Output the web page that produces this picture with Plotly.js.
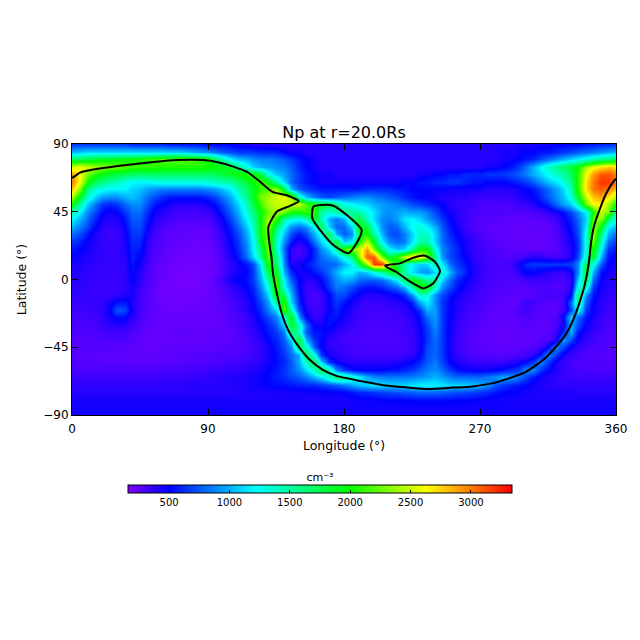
<!DOCTYPE html>
<html>
<head>
<meta charset="utf-8">
<script src="https://cdn.plot.ly/plotly-3.0.1.min.js"></script>
<style>html,body{margin:0;padding:0;background:#fff}#chart{width:640px;height:640px}</style>
</head>
<body>
<div id="chart"></div>
<script>
// Density in units of 100 cm^-3. Columns: longitude 0,5,...,360.
const longitudes = [0,5,10,15,20,25,30,35,40,45,50,55,60,65,70,75,80,85,90,95,100,105,110,115,120,125,130,135,140,145,150,155,160,165,170,175,180,185,190,195,200,205,210,215,220,225,230,235,240,245,250,255,260,265,270,275,280,285,290,295,300,305,310,315,320,325,330,335,340,345,350,355,360];
const latitudes = [90,85,80,75,70,65,60,55,50,45,40,35,30,25,20,15,10,5,0,-5,-10,-15,-20,-25,-30,-35,-40,-45,-50,-55,-60,-65,-70,-75,-80,-85,-90];

const lat90 = [6.5,6.5,6.5,6.5,6.5,6.5,6.5,6.5,6,6,6,6, 6,5.5,5.5,5.5,5.5,5.5,5,5,5,5,4.5,4.5, 4,4,4,4,4,4,4,4,4,4,4,4, 4,4,4,4,4,4,4,4,4,4,4,4, 4,4,4,4,4,4,4,4,4,4,4,4.5, 4.5,4.5,4.5,4.5,5,5,5,5,5.5,5.5,6,6,6.5];
const lat85 = [10,10.5,11,11,11,11,11,11,11,11,11,11, 11,11,11,10.5,10,9.5,9,8,7.5,7,6.5,6.5, 6.5,6,6,6,5,4.5,4.5,4,4,4,4,4, 4,4,4,4,4,4,4,4,4,4,4,4, 4,4,4,4,4,4,4,4,4,4.5,4.5,4.5, 5,5,5.5,5.5,6,6.5,7,7.5,8,8.5,9,9.5,10];
const lat80 = [17,17.5,18,18.5,19,19,19.5,20,20,20.5,21,21.5, 22,22,22,22,22,21.5,20,17,14.5,12,10.5,10, 9,8.5,8.5,8,7.5,6.5,5.5,5,4.5,4,4,4, 4,4,4,4,4,4,4,4,4,4,4,4, 4,4,4,4,4,4,4,4,4,4.5,4.5,5, 5.5,6,7,8,9,10,11,12,13,14.5,15.5,16.5,17];
const lat75 = [25,26,25,24,23.5,23,22.5,22,21.5,21,21,21, 20.5,20.5,20.5,20.5,20.5,20.5,20,20,19.5,18.5,16,13, 11,10,9.5,9,8.5,7.5,6,5,4.5,4,4,4, 4,4,4,4,4,4,4,4,4,4,4,4, 4,4,4,4,4,4,4,4.5,4.5,5,5.5,6.5, 8,10,12,14,15.5,17,18.5,20,24,26,27,28,27];
const lat70 = [29,26,23,21,19.5,18.5,18,17.5,17,17,17,17, 17,17,17,17,17,17,17,17.5,18,19,20,21, 20.5,18,13,10.5,9.5,8,6.5,5.5,5,4.5,4.5,4, 4,4,4,4,4,4,4,4,4,4,4.5,4.5, 5,5,5.5,5.5,6,6,6,6.5,6.5,6.5,7,7.5, 8.5,10,11,12.5,14,15,17,21,26,29,31,31,30];
const lat65 = [30,26,20.5,17.5,16,15,14,13,12,12,12,12.5, 13,13,13,13,13,13,13.5,14,14.5,15,16.5,18, 20,21.5,20,15,11,8,6.5,5.5,5,4.5,4.5,4.5, 4.5,4.5,4.5,4.5,4.5,4.5,4.5,4.5,5,5,5.5,5.5, 6,6,6.5,6.5,6,5.5,5.5,5,5,5,5.5,6, 6.5,7.5,9,10.5,11.5,13,16,21,27,30,32,32,30];
const lat60 = [28,23,16.5,13.5,12.5,12,12,12,11,10.5,9.5,9, 8.5,8.5,8.5,8.5,8.5,8.5,9,9.5,10.5,12,14.5,16.5, 19,21,22,24,18,10,7.5,6.5,6,5.5,5.5,5.5, 5.5,5.5,5.5,6,6,6,6,5.5,5.5,5,5,5, 5,5,4.5,4.5,4.5,4.5,4.5,4,4,4,4,4.5, 5,5.5,6.5,8,9.5,11,15,21,27,30,31,30,28];
const lat55 = [24,19,14,11,9.5,9,9,10,10.5,9.5,8,7, 6,5.5,5.5,5.5,5.5,5.5,6,7,8.5,10,12.5,15.5, 19,23,24,25,26,24,14,10.5,8.5,7.5,7,7.5, 8,8.5,9,9,8.5,8,7.5,7,6,5.5,5,5, 4.5,4,4,4,4,3.5,3.5,3.5,3.5,3.5,3.5,4, 4.5,5,6,7.5,9,10.5,13,19,25,28,29,27,24];
const lat50 = [20,15,11,8.5,6.5,6,6.5,8,9,9,7,5.5, 5,4.5,4,4,4,4,4.5,5.5,7,9,11,14, 18,21.5,24,25,25,25,25,22,20,19,18,16, 13,12,11.5,11,10,9.5,9,8.5,8,7,6.5,6, 5.5,5,4,3.5,3.5,3.5,3,3,3,3,3,3.5, 3.5,4,5,6,8,9.5,11,15,23,26,27,24,20];
const lat45 = [14.5,12,9,7,5.2,4.5,5,6.5,8,8,6,4.5, 4,3.5,3.3,3.2,3.2,3.3,3.5,4.5,6,8,10,13, 16,20,22.5,24,23,20.5,20,21,21,15,13.5,15, 16,15.5,14.5,13,11.5,9.5,9,9.5,10,9.5,9.5,8.5, 7,5.5,4.5,4,3.5,3.2,3,3,3,2.8,2.8,2.8, 2.8,3,3.2,3.8,4.5,5.5,7,9,12,20,25,23,15];
const lat40 = [12,10,8,6,4.5,4,4.3,5.5,7.5,7.5,5.5,4, 3.5,3.2,3,2.9,2.8,2.9,3,3.8,5,7,9,12, 15,20,24,21,15,13,12.5,14,20,14,10,8.5, 10,16,18,14,11,9,8.5,9.5,11.5,12,11,9.5, 8,6.5,5,4,3.5,3.1,2.8,2.7,2.6,2.6,2.5,2.5, 2.5,2.6,2.7,2.8,3.3,4.5,6,8,11,22,24,17,12];
const lat35 = [10,8.5,7,5,4,3.6,3.8,5,7,7,4.8,3.5, 3,2.8,2.6,2.5,2.5,2.5,2.6,3.3,4.5,6,8,10.5, 14,20,24,17,12,9,8,9,12,18,11,8, 8,11,20,18,13,9,7.5,8,10,12.5,13.5,12, 10,7.5,5.5,4.5,3.5,3.1,2.8,2.6,2.5,2.5,2.4,2.4, 2.4,2.4,2.4,2.5,3,4,5.5,7.5,12,24,19,12,10];
const lat30 = [8,7,5.5,4.2,3.7,3.4,3.5,4.5,6.5,6.5,4.2,3.2, 2.8,2.6,2.5,2.4,2.3,2.3,2.4,3,4,5.5,7,9.5, 13,20,23,15,10.5,7,5.5,7,10,13,18,10, 7.5,9,19,20,15,10,7.5,7,8.5,11,14,14, 11,8,6,5,4,3.4,3,2.7,2.5,2.5,2.4,2.4, 2.4,2.4,2.4,2.5,2.8,3.7,5,7,13,24,16,10,8];
const lat25 = [6.5,5.8,4.8,4,3.7,3.4,3.5,4.3,6.2,6,3.8,3, 2.7,2.5,2.4,2.3,2.2,2.2,2.3,2.8,3.7,5,6.5,9, 12,19,23,14,9,5.5,4,5,8,11,14,19, 11,12,20,25,19,12,9,8,8.5,11.5,15,15, 11,8,6.5,5.5,4.5,3.7,3.2,2.9,2.7,2.6,2.5,2.4, 2.4,2.4,2.4,2.5,2.7,3.5,4.5,6.5,13,23,14,8,6.5];
const lat20 = [5.5,5,4.5,4,3.8,3.6,3.6,4.2,6,5.5,3.6,2.9, 2.6,2.4,2.3,2.2,2.1,2.1,2.2,2.6,3.4,4.8,6,8.5, 12,17,23,14,8,3.8,3,3.8,6,9,11,15, 22,23,25,29,23,16,12,10.5,11,15,20,20, 13,9,7,6,4.5,3.8,3.4,3.1,2.9,2.7,2.6,2.5, 2.5,2.4,2.4,2.5,2.6,3.3,4.2,6.5,13,21,12,6.5,5.5];
const lat15 = [4.8,4.5,4.2,3.9,3.7,3.6,3.6,4,5.8,5,3.4,2.8, 2.5,2.3,2.2,2.1,2.1,2.1,2.2,2.5,3.2,4.5,5.5,8, 11,16,22,16,8.5,3.5,3.5,4.2,6,8,9,10, 13,16,24,31,31,23,18,21,25,28,27,23, 16,9,7,6,5,4,3.5,3.2,3,2.9,2.8,3, 3.5,4,3.8,3.4,3.2,3.3,4.2,7,14,19,10,5.5,4.8];
const lat10 = [4.5,4.3,4,3.8,3.6,3.6,3.6,3.9,5.5,4.5,3.2,2.6, 2.4,2.2,2.1,2,2,2,2.1,2.4,3,3.8,4.5,5.5, 7,12,21,17,9,4,4.5,5.5,6.5,7.5,7.8,8, 10,12,18,24,32,32,25,18,15,12,11,11, 15,12,8,6.5,5.5,4.3,3.7,3.3,3.1,3.1,3.3,4.5, 6,6.5,6.5,6.5,6.5,6.5,6.8,9,18,13,7.5,5,4.5];
const lat05 = [4.2,4,3.8,3.7,3.5,3.5,3.5,3.8,5.2,4,3,2.5, 2.3,2.1,2,2,2,2,2.1,2.3,3,4,4.6,5, 6.5,11,18,19,10,6,4.5,4.6,5.5,6.5,8,10, 12,12,10,11,13,15,18,20,15,11.5,9.5,9, 11,14,10,7.5,6,4.5,3.7,3.3,3.1,3,3.1,3.6, 5,5,4.5,4,3.7,3.5,4.5,9,19,10,5.5,4.5,4.2];
const lat00 = [4,3.9,3.7,3.6,3.5,3.5,3.5,3.7,5,3.7,2.9,2.4, 2.2,2.1,2,1.9,1.9,2,2.2,2.7,3.5,4.5,5,5.3, 6.5,10,15,21,12,7.5,5,4,4,5,7,9, 10,9.5,8,7.5,7.5,8,9.5,12,17,20,18,15, 16,11,8,6,5,4.2,3.5,3.2,3,2.9,2.8,2.9, 3.2,3.4,3.4,3.3,3.1,3,3.8,11,18,8,4.8,4.2,4];
const latS05 = [3.9,3.8,3.6,3.5,3.5,3.5,3.5,3.7,4.5,3.5,2.8,2.4, 2.1,2,2,2,2,2,2.2,2.5,3,3.6,4.3,5, 6,9,13,22,12.5,9,5,3.5,3.5,4.5,6.5,8.5, 8,7,6,5.5,5.5,6,7,8,10,15,20,20, 14,9,7,5.5,4.5,3.8,3.4,3.1,2.9,2.8,2.7,2.7, 2.7,2.9,3,3,2.8,2.8,4,13,14,6.5,4.5,4,3.9];
const latS10 = [3.8,3.7,3.6,3.5,3.5,3.6,3.8,4.2,4.5,3.2,2.7,2.4, 2.1,2.1,2.1,2.1,2.1,2.1,2.2,2.4,2.8,3.3,3.8,4.4, 5.5,8,11,20,17,10,5.5,3.5,3,3.5,5,7, 7,5.5,4.5,4,4,4.2,4.5,5,6,9,14,13, 9,7,5.5,4.5,4,3.6,3.2,3,2.8,2.7,2.6,2.6, 2.6,2.7,3,3.2,3,3.2,5,17,9,5.5,4.2,3.8,3.8];
const latS15 = [3.6,3.6,3.6,3.6,3.7,4.5,5.5,5.5,4.2,3.2,2.7,2.4, 2.2,2.1,2.1,2.1,2.2,2.2,2.3,2.5,2.7,3,3.5,4, 5,7,9.5,15,21,11,6,3.8,3,3.4,5,6.5, 5.5,4.5,3.8,3.5,3.5,3.6,3.8,4,4.5,6,10,12, 9,6.5,5,4.2,3.7,3.4,3.1,2.9,2.7,2.6,2.5,2.5, 3.5,3.2,2.9,2.7,2.7,3.2,8,16,7.5,5,4,3.6,3.6];
const latS20 = [3.4,3.4,3.4,3.5,3.8,5,7.5,7,4.5,3.2,2.7,2.4, 2.3,2.2,2.2,2.2,2.3,2.3,2.3,2.4,2.6,2.9,3.3,3.8, 4.7,6.3,8.5,11,22,14,7,4.2,3.2,3.5,4.8,6, 4.8,4,3.5,3.3,3.3,3.3,3.4,3.5,3.8,4.5,6.5,10, 9.5,6.5,5,4,3.5,3.2,3,2.7,2.5,2.5,2.6,3, 3.3,2.9,2.7,2.6,2.7,3.2,7,13,6.5,4.7,3.8,3.4,3.4];
const latS25 = [3.2,3.2,3.2,3.3,3.7,4.5,5.5,5.2,4,3,2.6,2.4, 2.3,2.3,2.3,2.3,2.3,2.3,2.3,2.4,2.5,2.8,3.1,3.5, 4.3,5.5,7,8.5,13,20,9,5,3.5,3.8,5.5,5.5, 4.5,3.8,3.4,3.2,3.2,3.2,3.2,3.3,3.5,4,5.5,8, 9.5,6.5,4.8,3.9,3.3,3,2.8,2.6,2.5,2.5,2.5,2.7, 3,2.8,2.6,2.6,2.9,5,11,8,5.5,4.3,3.6,3.3,3.2];
const latS30 = [3,3,3,3.3,3.6,3.9,4.1,3.9,3.3,2.8,2.5,2.4, 2.4,2.4,2.4,2.4,2.4,2.4,2.4,2.4,2.5,2.7,3,3.4, 4,5,6,7.5,11,19,14,8,4.8,4.5,5.5,4.5, 4,3.5,3.3,3.1,3,3,3.1,3.2,3.3,3.7,5,7, 9,6.5,4.6,3.7,3.2,2.9,2.7,2.6,2.5,2.4,2.4,2.5, 2.7,2.6,2.5,2.6,3,4.5,10,7,4.8,4,3.5,3.1,3];
const latS35 = [2.9,2.9,2.9,3,3.2,3.3,3.4,3.2,2.9,2.6,2.4,2.3, 2.4,2.4,2.4,2.5,2.4,2.4,2.4,2.4,2.5,2.6,2.9,3.2, 3.7,4.5,5.5,6.5,8.5,17,14,7.5,5.5,5.5,4.5,4, 3.5,3.3,3.1,3,3,3,3,3.1,3.3,3.5,4.8,6.5, 8.5,6.5,4.5,3.6,3.1,2.8,2.6,2.5,2.4,2.4,2.4,2.4, 2.5,2.5,2.6,2.7,3.2,6,10,5.5,4.2,3.6,3.2,3,2.9];
const latS40 = [2.8,2.8,2.8,2.8,2.9,3,3,2.9,2.7,2.5,2.4,2.3, 2.3,2.3,2.4,2.4,2.4,2.4,2.4,2.5,2.5,2.6,2.8,3, 3.5,4,5,6,7.5,11,19,10,6.5,5,3.7,3.4, 3.2,3.1,3,3,3,3,3,3,3.1,3.4,4.6,6.5, 8,6.5,4.4,3.5,3,2.7,2.6,2.5,2.4,2.4,2.4,2.4, 2.5,2.6,2.7,3,4.2,9.5,7,4.5,3.7,3.3,3,2.9,2.8];
const latS45 = [2.7,2.7,2.7,2.7,2.7,2.7,2.7,2.6,2.5,2.4,2.3,2.3, 2.4,2.5,2.5,2.5,2.5,2.6,2.6,2.6,2.7,2.7,2.8,3, 3.3,3.8,4.5,5.5,7,9,17,14,7.5,5,3.8,3.6, 3.4,3.2,3.1,3,3,3,3,3,3.1,3.4,4.6,7, 8,6.5,4.4,3.5,3,2.8,2.7,2.6,2.5,2.5,2.5,2.5, 2.6,2.8,3.2,5,9,7,4.5,3.6,3.2,3,2.9,2.8,2.7];
const latS50 = [2.7,2.7,2.6,2.6,2.6,2.6,2.6,2.5,2.4,2.4,2.4,2.4, 2.4,2.5,2.6,2.6,2.7,2.7,2.8,2.8,2.9,2.9,3,3.2, 3.4,3.8,4.5,5.3,6.5,8,10,18,13,6.5,4.5,4, 3.6,3.4,3.3,3.2,3.2,3.2,3.2,3.3,3.5,3.8,5,7.2, 8,6.5,4.5,3.7,3.3,3,2.9,2.8,2.7,2.7,2.8,3, 3.2,3.6,5.5,9,6.5,4.3,3.6,3.2,3,2.9,2.8,2.7,2.7];
const latS55 = [2.8,2.8,2.7,2.7,2.6,2.6,2.6,2.6,2.6,2.6,2.6,2.6, 2.7,2.7,2.7,2.8,2.8,2.9,3,3,3.1,3.2,3.3,3.5, 3.7,4,4.5,5.2,6,7.5,10,14,18,11,6.5,4.8, 4.2,4,3.9,3.9,3.9,4,4,4.2,4.5,5,6,7.5, 8.5,6.8,5,4.2,3.7,3.5,3.4,3.4,3.4,3.5,3.8,4.4, 5,6.5,9,6.5,4.5,3.6,3.2,3,2.9,2.8,2.8,2.8,2.8];
const latS60 = [3,3,3,3,3,3,3,3,3,3,3,3, 3,3.1,3.1,3.2,3.2,3.3,3.4,3.5,3.6,3.7,3.8,4, 4.2,4.5,5,5.5,6.5,7.5,9,11,14,18,15,9, 6.5,5.5,5,5,5,5,5.5,5.5,6,6.5,7.5,8.5, 9,8,6.5,5.5,5,4.8,4.8,4.8,5,5.5,6,6.5, 9,9,6.5,5,4.2,3.6,3.3,3.1,3,3,3,3,3];
const latS65 = [3.4,3.4,3.4,3.4,3.4,3.4,3.4,3.4,3.4,3.4,3.4,3.4, 3.4,3.5,3.5,3.6,3.6,3.7,3.8,3.9,4,4.1,4.2,4.3, 4.5,4.8,5.2,5.7,6.2,6.8,7.5,8.5,10,11.5,14,16.5, 16,14,12,10,9,8.5,8.5,8.5,8.5,8.7,9,9.5, 10,9.5,8.5,8,8,8,8,8.5,9,10,9.5,8.5, 7,5.5,4.7,4.2,3.8,3.6,3.4,3.4,3.4,3.4,3.4,3.4,3.4];
const latS70 = [3.8,3.8,3.8,3.8,3.8,3.8,3.8,3.8,3.8,3.8,3.8,3.8, 3.8,3.8,3.8,3.9,3.9,4,4,4,4.1,4.1,4.2,4.3, 4.5,4.7,5,5.2,5.4,5.6,5.8,6,6,6.5,7,7.5, 8.5,9.5,10.5,11,11.5,11.5,11,11,11,11.5,12,12, 12,11.5,11,11,11,10.5,10,9,7.5,6.5,6,5.5, 5,4.6,4.3,4,3.9,3.8,3.8,3.8,3.8,3.8,3.8,3.8,3.8];
const latS75 = [4,4,4,4,4,4,4,4,4,4,4,4, 4,4,4,4,4,4,4,4,4,4,4.1,4.1, 4.3,4.3,4.3,4.4,4.4,4.5,4.5,4.6,4.6,4.7,4.8,4.9, 5,5.5,6,6.2,6.5,6.8,7,7.2,7.5,7.8,8,8, 8,7.8,7.5,7.2,7,6.8,6.5,6,5.5,5.2,5,4.8, 4.5,4.4,4.3,4.3,4.2,4.2,4.1,4,4,4,4,4,4];
const latS80 = [4.3,4.3,4.3,4.3,4.3,4.3,4.3,4.3,4.3,4.3,4.3,4.3, 4.3,4.3,4.3,4.3,4.3,4.3,4.3,4.3,4.3,4.3,4.3,4.3, 4.3,4.3,4.3,4.3,4.3,4.3,4.3,4.3,4.3,4.3,4.3,4.3, 4.4,4.5,4.6,4.7,4.8,4.9,5,5,5.1,5.1,5.2,5.2, 5.2,5.2,5.1,5,5,4.9,4.8,4.7,4.6,4.5,4.4,4.4, 4.3,4.3,4.3,4.3,4.3,4.3,4.3,4.3,4.3,4.3,4.3,4.3,4.3];
const latS85 = [4.5,4.5,4.5,4.5,4.5,4.5,4.5,4.5,4.5,4.5,4.5,4.5, 4.5,4.5,4.5,4.5,4.5,4.5,4.5,4.5,4.5,4.5,4.5,4.5, 4.5,4.5,4.5,4.5,4.5,4.5,4.5,4.5,4.5,4.5,4.5,4.5, 4.6,4.6,4.6,4.6,4.6,4.6,4.6,4.6,4.6,4.6,4.6,4.6, 4.6,4.6,4.6,4.6,4.6,4.6,4.6,4.6,4.6,4.6,4.6,4.6, 4.5,4.5,4.5,4.5,4.5,4.5,4.5,4.5,4.5,4.5,4.5,4.5,4.5];
const latS90 = [4.6,4.6,4.6,4.6,4.6,4.6,4.6,4.6,4.6,4.6,4.6,4.6, 4.6,4.6,4.6,4.6,4.6,4.6,4.6,4.6,4.6,4.6,4.6,4.6, 4.6,4.6,4.6,4.6,4.6,4.6,4.6,4.6,4.6,4.6,4.6,4.6, 4.6,4.6,4.6,4.6,4.6,4.6,4.6,4.6,4.6,4.6,4.6,4.6, 4.6,4.6,4.6,4.6,4.6,4.6,4.6,4.6,4.6,4.6,4.6,4.6, 4.6,4.6,4.6,4.6,4.6,4.6,4.6,4.6,4.6,4.6,4.6,4.6,4.6];

const rows = [lat90,lat85,lat80,lat75,lat70,lat65,lat60,lat55,lat50,lat45,lat40,lat35,lat30,lat25,lat20,lat15,lat10,lat05,lat00,latS05,latS10,latS15,latS20,latS25,latS30,latS35,latS40,latS45,latS50,latS55,latS60,latS65,latS70,latS75,latS80,latS85,latS90];

// Black contour lines, longitude / latitude
const mainLon = [0,1,5.3,14,36,54,69,87,98,106.8,115.6,124.4,133,142,150,144,135.5,130,130.6,132,133,135.5,138.8,143,150,157.5,166,175,184,194,205,221,236,252,265,278,291,300,307,314,320,325,329,332,334.6,339,342,343.4,345.6,349,353.4,359,360];
const mainLat = [67.5,68,71,73,76,78,79.3,79.3,77.6,75,71.6,65,58,56,52,48.8,45,35,24,15,4,-9,-22.5,-33.5,-44.6,-53.5,-60,-64,-66,-68,-70,-71.6,-72.7,-71.8,-71,-69,-65,-61.5,-57,-51.5,-45,-39,-32.5,-26,-19,-4.8,10.7,24,36,46,57,66,67];
const ovalLon = [159.7,165.2,172.9,181.8,191.7,189.5,182.9,172.9,164.1,159,159.7];
const ovalLat = [48.4,49.5,49,42.8,32.9,26.2,17.4,22.9,32.9,40.6,48.4];
const dropLon = [207.1,217,225.9,233.6,240.2,243.5,239.1,232.5,223.7,214.9,207.1];
const dropLat = [9.2,10.7,14.5,15.8,11.8,5.6,-2.5,-5.9,-1.4,4.8,9.2];

const titleText = 'Np at r=20.0Rs';
const xTicks = [0,90,180,270,360];
const yTicks = [-90,-45,0,45,90];
const barTicks = [500,1000,1500,2000,2500,3000];
const zLow = 160, zHigh = 3340;

const FONT = '"DejaVu Sans", sans-serif';
const line = {color:'#000',width:2,shape:'spline',smoothing:0.6};
const contour = (x,y)=>({type:'scatter',mode:'lines',x,y,line,showlegend:false,hoverinfo:'skip'});

Plotly.newPlot('chart',[
 {type:'heatmap',x:longitudes,y:latitudes,z:rows.map(r=>r.map(v=>v*100)),zsmooth:'best',zmin:zLow,zmax:zHigh,
  colorscale:[[0,'#7f00ff'],[0.107,'#0000ff'],[0.333,'#00ffff'],[0.575,'#00ff00'],[0.777,'#ffff00'],[1,'#ff0000']],
  colorbar:{orientation:'h',lenmode:'pixels',len:384,thicknessmode:'pixels',thickness:8,xref:'paper',yref:'paper',
   x:0.4559,xanchor:'center',y:-0.21,yanchor:'top',xpad:0,ypad:0,outlinecolor:'#000',outlinewidth:1,
   tickmode:'array',tickvals:barTicks,ticks:'inside',ticklen:3,tickcolor:'#000',tickfont:{family:FONT,size:10,color:'#000'},
   title:{text:'cm⁻³',side:'top',font:{family:FONT,size:11,color:'#000'}}}},
 contour(mainLon,mainLat),contour(ovalLon,ovalLat),contour(dropLon,dropLat)
],{
 width:640,height:640,paper_bgcolor:'#fff',plot_bgcolor:'#fff',showlegend:false,
 margin:{l:72,r:24,t:144,b:225,pad:0},
 title:{text:titleText,font:{family:FONT,size:16,color:'#000'},x:0.5,xanchor:'center',xref:'paper',y:0.785,yanchor:'bottom',yref:'container'},
 xaxis:{range:[0,360],tickmode:'array',tickvals:xTicks,ticks:'inside',ticklen:6,tickcolor:'#000',mirror:'ticks',showline:true,linecolor:'#000',linewidth:1,showgrid:false,zeroline:false,ticklabelstandoff:3,
  tickfont:{family:FONT,size:12,color:'#000'},title:{text:'Longitude (°)',font:{family:FONT,size:12.5,color:'#000'},standoff:5}},
 yaxis:{range:[-90,90],tickmode:'array',tickvals:yTicks,ticks:'inside',ticklen:6,tickcolor:'#000',mirror:'ticks',showline:true,linecolor:'#000',linewidth:1,showgrid:false,zeroline:false,
  tickfont:{family:FONT,size:12,color:'#000'},title:{text:'Latitude (°)',font:{family:FONT,size:12.5,color:'#000'},standoff:13}}
},{displayModeBar:false,staticPlot:true});
</script>
</body>
</html>
